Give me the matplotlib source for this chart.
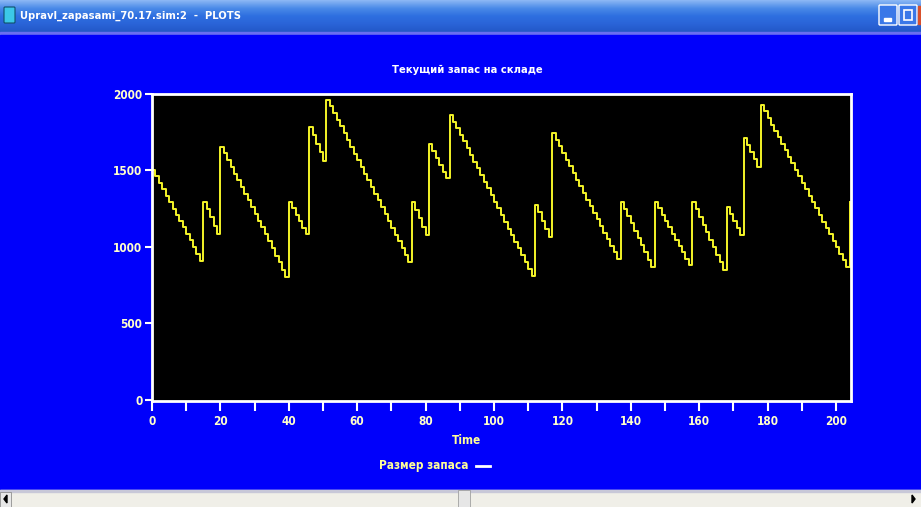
import matplotlib
matplotlib.use("Agg")
import matplotlib.pyplot as plt
from matplotlib.patches import Rectangle, FancyBboxPatch
from matplotlib.colors import LinearSegmentedColormap
import numpy as np

plt.rcParams['font.family'] = ['Liberation Sans Narrow', 'DejaVu Sans']
plt.rcParams['font.stretch'] = 'condensed'
plt.rcParams['font.weight'] = 'bold'

window_title = "Upravl_zapasami_70.17.sim:2  -  PLOTS"
chart_title = "Текущий запас на складе"
x_label = "Time"
legend_label = "Размер запаса"

# stock level, one value per time unit (t = 0 .. 204)
stock = [
    1500, 1462, 1418, 1380, 1334, 1296, 1250, 1212, 1170, 1128, 1082, 1044, 1000, 952, 908,
    1297, 1248, 1196, 1140, 1083,
    1656, 1612, 1570, 1524, 1478, 1440, 1395, 1348, 1305, 1262, 1218, 1170, 1128, 1082, 1036,
    992, 944, 900, 852, 806,
    1296, 1252, 1210, 1168, 1124, 1085,
    1787, 1730, 1676, 1620, 1564,
    1961, 1920, 1874, 1830, 1788, 1744, 1700, 1652, 1610, 1566, 1522, 1478, 1436, 1390, 1346,
    1304, 1258, 1214, 1170, 1126, 1080, 1038, 990, 946, 900,
    1296, 1244, 1190, 1132, 1078,
    1670, 1626, 1580, 1536, 1492, 1449,
    1863, 1820, 1776, 1732, 1690, 1646, 1600, 1558, 1514, 1470, 1426, 1384, 1340, 1296, 1252,
    1208, 1164, 1120, 1078, 1034, 990, 946, 902, 858, 813,
    1275, 1226, 1172, 1120, 1068,
    1743, 1700, 1658, 1614, 1570, 1528, 1484, 1440, 1398, 1354, 1310, 1266, 1224, 1180, 1136,
    1094, 1050, 1008, 964, 920,
    1296, 1248, 1202, 1154, 1106, 1060, 1012, 966, 918, 871,
    1296, 1254, 1212, 1170, 1130, 1088, 1046, 1004, 964, 922, 882,
    1296, 1246, 1196, 1146, 1098, 1048, 998, 948, 900, 850,
    1264, 1216, 1170, 1124, 1078,
    1710, 1664, 1618, 1572, 1525,
    1928, 1886, 1844, 1800, 1760, 1716, 1674, 1632, 1590, 1546, 1504, 1462, 1420, 1378, 1336,
    1294, 1252, 1210, 1166, 1124, 1082, 1040, 998, 956, 914, 871,
    1296,
]
x_ticks = [0, 20, 40, 60, 80, 100, 120, 140, 160, 180, 200]
y_ticks = [0, 500, 1000, 1500, 2000]

W, H = 921, 507
fig = plt.figure(figsize=(W / 100, H / 100), dpi=100)

# window chrome, drawn in pixel coordinates
bg = fig.add_axes([0, 0, 1, 1])
bg.set_xlim(0, W)
bg.set_ylim(H, 0)
bg.axis('off')

# title bar gradient
grad = np.linspace(0, 1, 32).reshape(-1, 1)
tb = LinearSegmentedColormap.from_list('tb', ['#8ab6f4', '#4a8ae8', '#2e6fe0', '#2a64d8', '#2358c8'])
bg.imshow(grad, cmap=tb, extent=[0, W, 32, 0], aspect='auto', zorder=1)
bg.add_patch(Rectangle((0, 32), W, 3, color='#6a6ef0', zorder=1))
bg.add_patch(Rectangle((0, 35), W, 455, color='#0000fb', zorder=1))
bg.text(20, 16, window_title, color='white', fontsize=8, va='center', ha='left', zorder=3)
bg.add_patch(FancyBboxPatch((5, 8), 9, 14, boxstyle='round,pad=1', fc='#3cc8e8', ec='#10506a',
                            lw=0.8, zorder=3))
for bx in (880, 900):
    bg.add_patch(FancyBboxPatch((bx, 6), 16, 18, boxstyle='round,pad=1', fc='#3a78e8',
                                ec='white', lw=1, zorder=3))
bg.add_patch(Rectangle((884, 18), 7, 3, color='white', zorder=4))
bg.add_patch(Rectangle((904, 10), 8, 10, fc='none', ec='white', lw=1.2, zorder=4))
bg.add_patch(Rectangle((918, 6), 5, 18, color='#d8502c', zorder=3))

# bottom scroll bar
bg.add_patch(Rectangle((0, 490), W, 17, color='#f0efe8', zorder=1))
bg.add_patch(Rectangle((0, 490), W, 1.5, color='#c8c8d8', zorder=2))
bg.add_patch(Rectangle((458, 490), 12, 17, fc='#e6e6e6', ec='#a0a0a0', lw=0.6, zorder=2))
bg.add_patch(Rectangle((0, 492), 11, 15, fc='#e8e8e8', ec='#909090', lw=0.6, zorder=2))
bg.fill([7, 4, 7], [495, 499, 503], color='black', zorder=3)
bg.fill([912, 915, 912], [495, 499, 503], color='black', zorder=3)

bg.text(467, 70, chart_title, color='white', fontsize=8, ha='center', va='center', zorder=3)
bg.text(466, 440, x_label, color='#ffff99', fontsize=8.5, ha='center', va='center', zorder=3)
bg.text(468, 466, legend_label, color='#ffff99', fontsize=8.5, ha='right', va='center', zorder=3)
bg.plot([476, 490], [466, 466], color='white', lw=2, zorder=3)

# plot area
left, right, top, bottom = 152, 851, 94, 401
ax = fig.add_axes([left / W, (H - bottom) / H, (right - left) / W, (bottom - top) / H])
ax.set_facecolor('black')

t = np.arange(len(stock))
times = np.concatenate([[0], t])
values = np.concatenate([[0], stock])
ax.plot(times, values, drawstyle='steps-post', color='#f4f428', lw=1.4)

ax.set_xlim(0, 204.4)
ax.set_ylim(-7, 2000)
ax.set_xticks(x_ticks)
ax.set_xticks(np.arange(10, 201, 20), minor=True)
ax.set_yticks(y_ticks)
ax.tick_params(axis='x', which='both', direction='out', length=7, width=1.5, colors='white',
               labelcolor='#ffffcc', labelsize=8.5, pad=3)
ax.tick_params(axis='y', direction='out', length=5, width=1.5, colors='white',
               labelcolor='#ffffcc', labelsize=8.5, pad=2)
for s in ax.spines.values():
    s.set_color('white')
    s.set_linewidth(2)

fig.savefig('out.png', dpi=100, facecolor='#0000fb')
